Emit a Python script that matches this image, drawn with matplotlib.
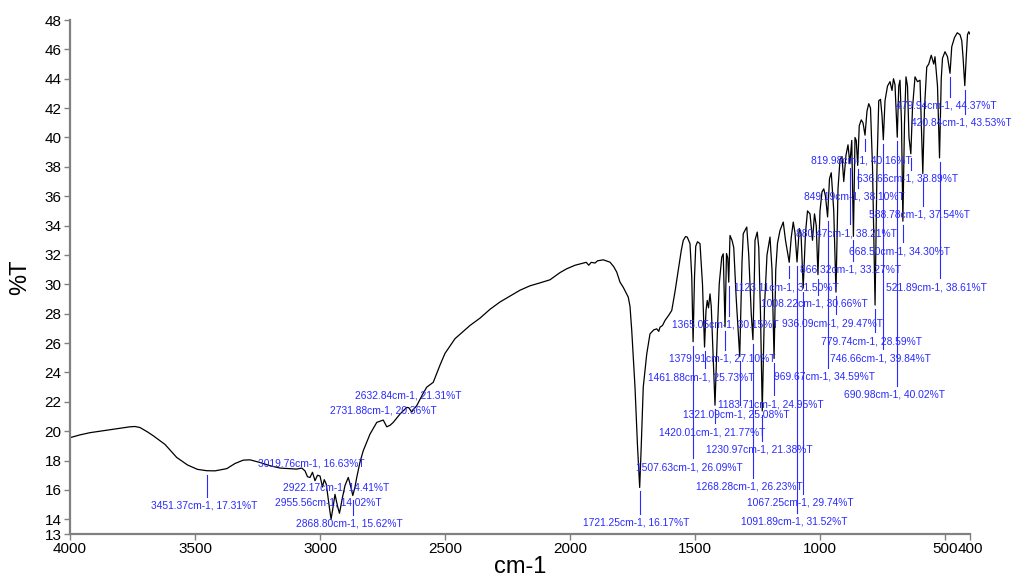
import matplotlib
matplotlib.use("Agg")
import matplotlib.pyplot as plt
from matplotlib import font_manager

# spectrum trace (wavenumber in cm-1, transmittance in %T)
wavenumber = [
    4000, 3960, 3920, 3880, 3840, 3800, 3760, 3740, 3720, 3690, 3667, 3620, 3573, 3530,
    3490, 3453, 3420, 3373, 3340, 3307, 3280, 3240, 3200, 3160, 3120, 3093, 3073, 3060,
    3050, 3040, 3030, 3020, 3010, 3000, 2990, 2983, 2975, 2968, 2960, 2955.56, 2950, 2940,
    2930, 2922.17, 2910, 2900, 2887, 2878, 2868.8, 2860, 2853, 2840, 2827, 2800, 2773, 2747,
    2733, 2720, 2707, 2680, 2653, 2645, 2633, 2625, 2613, 2590, 2573, 2547, 2520, 2500,
    2460, 2440, 2400, 2360, 2320, 2280, 2240, 2200, 2160, 2120, 2080, 2040, 2013, 1980,
    1947, 1935, 1925, 1915, 1900, 1890, 1867, 1855, 1840, 1825, 1813, 1800, 1787, 1767,
    1760, 1753, 1745, 1740, 1730, 1721.25, 1715, 1707, 1693, 1680, 1665, 1653, 1645, 1640,
    1630, 1620, 1605, 1593, 1580, 1567, 1555, 1547, 1538, 1531, 1520, 1513, 1507.63, 1502,
    1497, 1490, 1480, 1470, 1461.88, 1456, 1451, 1446, 1440, 1435, 1420.01, 1410, 1403,
    1393, 1387, 1379.91, 1374, 1369, 1365.05, 1360, 1352, 1345, 1335, 1321.09, 1312, 1307,
    1293, 1285, 1275, 1268.28, 1262, 1260, 1251, 1245, 1238, 1230.97, 1222, 1212, 1200,
    1192, 1183.71, 1177, 1170, 1160, 1147, 1138, 1123.11, 1115, 1107, 1100, 1091.89, 1083,
    1076, 1067.25, 1058, 1050, 1040, 1030, 1022, 1015, 1008.22, 1000, 992, 985, 978, 969.67,
    962, 955, 945, 936.09, 928, 920, 912, 905, 896, 888, 880.47, 873, 866.32, 860, 855,
    849.19, 843, 835, 828, 819.98, 812, 805, 798, 790, 779.74, 772, 765, 758, 752, 746.66,
    740, 730, 720, 712, 706, 700, 690.98, 685, 680, 674, 668.5, 662, 656, 650, 644, 636.66,
    630, 620, 610, 600, 595, 588.78, 582, 573, 565, 555, 545, 540, 530, 521.89, 515, 510,
    500, 490, 479.94, 473, 462, 451, 440, 433, 428, 420.84, 415, 410, 405, 400,
]
transmittance = [
    19.56, 19.75, 19.9, 20.0, 20.1, 20.2, 20.3, 20.32, 20.25, 19.95, 19.69, 19.1, 18.21, 17.7,
    17.4, 17.31, 17.3, 17.45, 17.8, 18.03, 18.05, 17.87, 17.65, 17.49, 17.45, 17.42, 17.49, 17.3,
    16.9, 16.85, 17.2, 16.63, 17.0, 16.95, 16.2, 16.7, 16.4, 15.5, 14.5, 14.02, 14.6, 15.7,
    14.9, 14.41, 15.5, 16.3, 16.85, 16.3, 15.62, 16.2, 16.85, 17.9, 18.67, 19.8, 20.6, 20.76,
    20.3, 20.4, 20.6, 21.17, 21.62, 21.6, 21.31, 21.5, 21.74, 22.5, 23.0, 23.33, 24.5, 25.3,
    26.3, 26.6, 27.2, 27.7, 28.3, 28.8, 29.2, 29.6, 29.9, 30.1, 30.31, 30.8, 31.06, 31.3,
    31.45, 31.5, 31.3, 31.5, 31.45, 31.6, 31.67, 31.6, 31.51, 31.2, 30.83, 30.15, 29.8, 29.13,
    28.5, 26.85, 24.5, 23.0, 19.0, 16.17, 19.0, 23.0, 25.26, 26.63, 26.9, 26.97, 26.8, 27.08,
    27.2, 27.54, 27.9, 28.22, 29.5, 30.95, 32.3, 32.99, 33.25, 33.22, 32.77, 30.5, 26.09, 30.5,
    32.6, 32.9, 32.77, 30.0, 25.73, 28.22, 28.9, 28.4, 29.35, 28.5, 21.77, 27.0, 30.04,
    31.85, 32.08, 27.10, 32.1, 31.8, 30.15, 33.33, 33.0, 32.5, 29.0, 25.08, 31.5, 33.45,
    33.9, 32.0, 28.0, 26.23, 31.0, 33.0, 33.56, 32.5, 28.0, 21.38, 28.5, 32.0, 33.22,
    31.0, 24.95, 31.0, 32.8, 33.67, 34.24, 33.0, 31.5, 33.2, 34.24, 33.5, 31.52, 33.8,
    33.5, 29.74, 33.5, 35.0, 34.8, 33.0, 34.8, 34.0, 30.66, 35.0, 36.3, 36.5, 36.0, 34.59,
    37.2, 37.6, 35.0, 29.47, 36.5, 38.5, 38.7, 37.0, 38.8, 39.5, 38.21, 39.8, 33.27, 40.0, 39.8,
    38.10, 40.8, 41.2, 41.0, 40.16, 41.8, 42.3, 42.0, 38.0, 28.59, 38.0, 42.5, 42.6, 41.5, 39.84,
    42.5, 43.5, 43.8, 43.2, 44.0, 43.6, 40.02, 43.5, 43.9, 41.0, 34.30, 41.0, 44.13, 43.5, 40.0, 38.89,
    42.0, 44.13, 43.8, 43.9, 41.0, 37.54, 42.0, 44.8, 45.0, 45.6, 45.0, 45.5, 43.5, 38.61, 44.0, 45.4,
    45.84, 45.5, 44.37, 46.18, 46.8, 47.13, 47.0, 46.6, 45.5, 43.53, 45.5, 47.0, 47.2, 47.04,
]

# labelled bands
peak_wn = [3451.37, 3019.76, 2922.17, 2955.56, 2868.80, 2731.88, 2632.84, 1721.25,
           1507.63, 1461.88, 1420.01, 1379.91, 1365.05, 1321.09, 1268.28, 1230.97,
           1183.71, 1123.11, 1008.22, 1067.25, 1091.89, 969.67, 936.09, 880.47,
           866.32, 849.19, 819.98, 779.74, 746.66, 690.98, 668.50, 636.66, 588.78,
           521.89, 479.94, 420.84]
peak_t = [17.31, 16.63, 14.41, 14.02, 15.62, 20.36, 21.31, 16.17,
          26.09, 25.73, 21.77, 27.10, 30.15, 25.08, 26.23, 21.38,
          24.95, 31.50, 30.66, 29.74, 31.52, 34.59, 29.47, 38.21,
          33.27, 38.10, 40.16, 28.59, 39.84, 40.02, 34.30, 38.89, 37.54,
          38.61, 44.37, 43.53]
# where each label sits (in %T units)
label_y = [14.92, 17.78, 16.14, 15.12, 13.71, 21.44, 22.42, 13.76,
           17.53, 23.67, 19.92, 24.92, 27.24, 21.17, 16.23, 18.72,
           21.85, 29.81, 28.68, 15.14, 13.85, 23.72, 27.35, 33.49,
           31.01, 35.95, 38.45, 26.12, 24.96, 22.49, 32.26, 37.2, 34.75,
           29.81, 42.15, 40.99]

xticks = [4000, 3500, 3000, 2500, 2000, 1500, 1000, 500, 400]
yticks = [13, 14] + list(range(16, 49, 2))

installed = {f.name for f in font_manager.fontManager.ttflist}
if "Liberation Sans Narrow" in installed:
    family, tick_fs, ann_fs, lab_fs = "Liberation Sans Narrow", 12, 8.8, 19
else:
    family, tick_fs, ann_fs, lab_fs = "Liberation Sans", 11, 7.4, 17
plt.rcParams["font.family"] = [family, "DejaVu Sans"]

fig = plt.figure(figsize=(10.11, 5.81), dpi=100)
ax = fig.add_axes([70 / 1011, 47 / 581, 900 / 1011, 514 / 581])

ax.plot(wavenumber, transmittance, color="black", lw=0.9)

blue = "#2a2aff"
px = 35 / 514  # one pixel in %T units
for wn, t, ly in zip(peak_wn, peak_t, label_y):
    # labels sit a few pixels left of their band
    ax.text(wn + 13, ly, f"{wn:.2f}cm-1, {t:.2f}%T", color=blue, fontsize=ann_fs,
            ha="center", va="center")
    if ly < t:
        ax.plot([wn, wn], [t - 4 * px, ly + 9 * px], color=blue, lw=0.8)

ax.set_xlim(4000, 400)
ax.set_ylim(13, 48)
ax.set_xticks(xticks)
ax.set_yticks(yticks)
ax.set_xticklabels([str(v) for v in xticks])
ax.set_yticklabels([str(v) for v in yticks])
ax.tick_params(axis="both", direction="out", length=4, width=1, color="#808080",
               labelsize=tick_fs, pad=2)

for side in ("top", "right"):
    ax.spines[side].set_visible(False)
for side in ("left", "bottom"):
    ax.spines[side].set_color("#808080")
    ax.spines[side].set_linewidth(1.6)

ax.set_xlabel("cm-1", fontsize=lab_fs, labelpad=0)
ax.set_ylabel("%T", fontsize=lab_fs, labelpad=10)

fig.savefig("out.png", dpi=100)
